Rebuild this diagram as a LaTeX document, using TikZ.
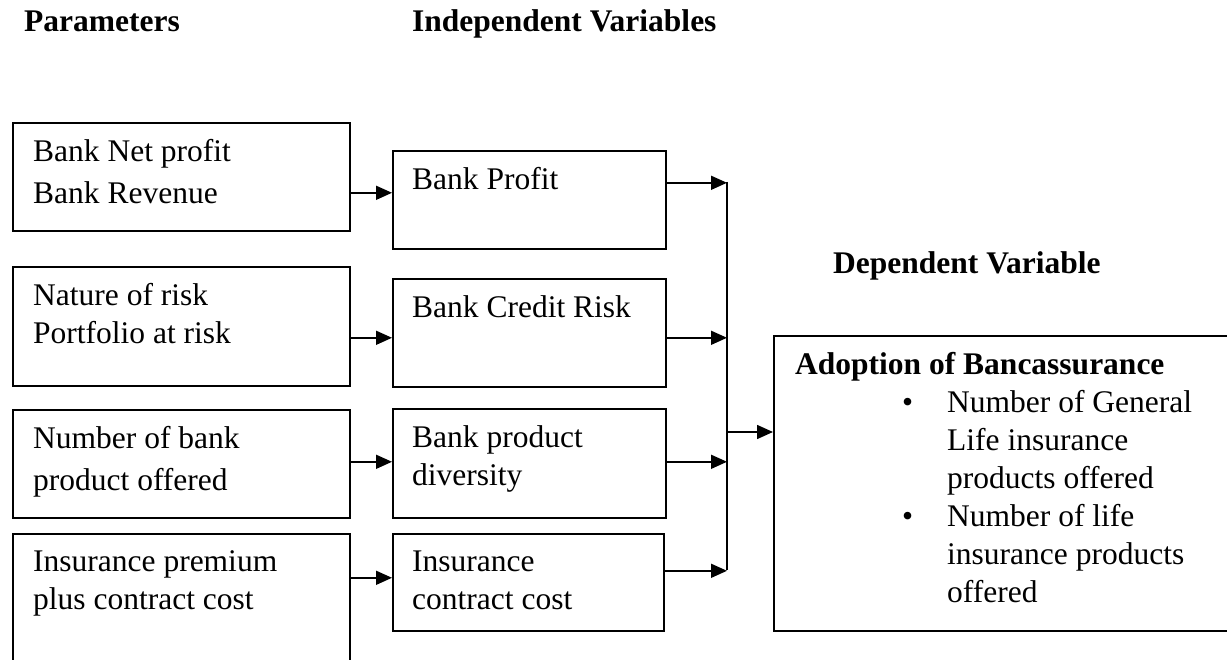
\documentclass[tikz,border=0pt]{standalone}
\usepackage{fontspec}
\setmainfont{Liberation Serif}
\usetikzlibrary{arrows.meta}

\begin{document}
\begin{tikzpicture}[x=1pt, y=-1pt, >={Triangle[length=16pt,width=14pt]},
        font=\fontsize{31.5}{38}\selectfont,
        box/.style={draw, line width=1.6pt, anchor=north west, inner sep=0pt},
        txt/.style={anchor=north west, inner sep=0pt, align=left},
        head/.style={anchor=base west, inner sep=0pt, font=\fontsize{31.5}{38}\selectfont\bfseries},
        link/.style={->, line width=1.6pt}]
        \clip (0,0) rectangle (1227,660);

        \node[head] (param) at (24,32) {Parameters};
        \node[head] (indep) at (412,32) {Independent Variables};
        \node[head] (dep) at (833,274) {Dependent Variable};

        % parameters
        \node[box, minimum width=337pt, minimum height=108pt] (netp) at (12,122) {};
        \node[txt] at ([shift={(21pt,-17.5pt)}]netp.north west) {Bank Net profit\\[4pt]Bank Revenue};
        \node[box, minimum width=337pt, minimum height=119pt] (natr) at (12,266) {};
        \node[txt] at ([shift={(21pt,-17.5pt)}]natr.north west) {Nature of risk\\Portfolio at risk};
        \node[box, minimum width=337pt, minimum height=108pt] (numb) at (12,409) {};
        \node[txt] at ([shift={(21pt,-17.5pt)}]numb.north west) {Number of bank\\[4pt]product offered};
        \node[box, minimum width=337pt, minimum height=150pt] (prem) at (12,533) {};
        \node[txt] at ([shift={(21pt,-17.5pt)}]prem.north west) {Insurance premium\\plus contract cost};

        % independent variables
        \node[box, minimum width=273pt, minimum height=98pt] (prof) at (392,150) {};
        \node[txt] at ([shift={(20pt,-17.5pt)}]prof.north west) {Bank Profit};
        \node[box, minimum width=273pt, minimum height=108pt] (cred) at (392,278) {};
        \node[txt] at ([shift={(20pt,-17.5pt)}]cred.north west) {Bank Credit Risk};
        \node[box, minimum width=273pt, minimum height=109pt] (divr) at (392,408) {};
        \node[txt] at ([shift={(20pt,-17.5pt)}]divr.north west) {Bank product\\diversity};
        \node[box, minimum width=271pt, minimum height=97pt] (cost) at (392,533) {};
        \node[txt] at ([shift={(20pt,-17.5pt)}]cost.north west) {Insurance\\contract cost};

        % dependent variable
        \node[box, minimum width=470pt, minimum height=295pt] (adopt) at (773,335) {};
        \node[txt] at ([shift={(22pt,-17.5pt)}]adopt.north west) {\textbf{Adoption of Bancassurance}\\
            \hspace*{107pt}\makebox[45pt][l]{\textbullet}Number of General\\
            \hspace*{152pt}Life insurance\\
            \hspace*{152pt}products offered\\
            \hspace*{107pt}\makebox[45pt][l]{\textbullet}Number of life\\
            \hspace*{152pt}insurance products\\
            \hspace*{152pt}offered};

        \coordinate (bustop) at (727,182);
        \coordinate (busmid) at (727,432);
        \coordinate (busbot) at (727,570);

        \draw[link] ([yshift=-16pt]netp.east) -- ([yshift=-16pt]netp.east -| prof.west);
        \draw[link] ([yshift=-11.5pt]natr.east) -- ([yshift=-11.5pt]natr.east -| cred.west);
        \draw[link] ([yshift=2pt]numb.east) -- ([yshift=2pt]numb.east -| divr.west);
        \draw[link] ([yshift=31pt]prem.east) -- ([yshift=31pt]prem.east -| cost.west);

        \draw[link] ([yshift=17pt]prof.east) -- ([yshift=17pt]prof.east -| bustop);
        \draw[link] ([yshift=-5pt]cred.east) -- ([yshift=-5pt]cred.east -| bustop);
        \draw[link] ([yshift=1.5pt]divr.east) -- ([yshift=1.5pt]divr.east -| bustop);
        \draw[link] ([yshift=11.5pt]cost.east) -- ([yshift=11.5pt]cost.east -| bustop);
        \draw[line width=1.6pt] (bustop) -- (busbot);
        \draw[link] (busmid) -- (busmid -| adopt.west);
    \end{tikzpicture}
\end{document}
